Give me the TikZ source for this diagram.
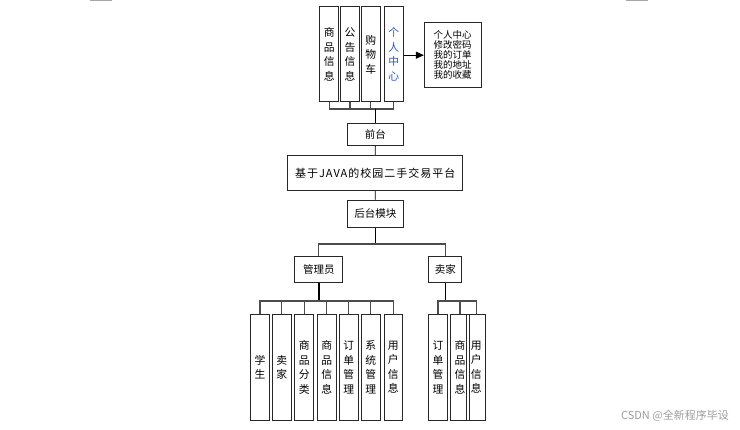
\documentclass[tikz,border=0pt]{standalone}
\usepackage{fontspec}
\setmainfont{Noto Sans CJK SC}
\usetikzlibrary{arrows.meta}
\definecolor{lineC}{RGB}{40,40,40}
\definecolor{blueT}{RGB}{40,90,200}
\tikzset{
  box/.style={draw=lineC, line width=1pt, fill=white, inner sep=0pt, align=center},
  vbox/.style={box, minimum width=18.6pt, minimum height=#1, font=\fontsize{10.8}{14.5}\selectfont},
  hbox/.style={box, font=\fontsize{10.5}{12}\selectfont},
  conn/.style={draw=black, line width=0.9pt},
  bus/.style={draw=black!70, line width=1.1pt},
  stem/.style={draw=black, line width=1.6pt},
}
\begin{document}
\begin{tikzpicture}[x=1pt,y=-1pt]
\useasboundingbox (0,0) rectangle (740,430);
\fill[white] (0,0) rectangle (740,430);
\fill[black!35] (90,0) rectangle (112,1.2);
\fill[black!35] (626,0) rectangle (648,1.2);
% top row
\node[vbox=95pt] (t1) at (329.2,54.5) {商\\品\\信\\息};
\node[vbox=95pt] (t2) at (350,54.5) {公\\告\\信\\息};
\node[vbox=95pt] (t3) at (370.8,54.5) {购\\物\\车};
\node[vbox=95pt, text=blueT] (t4) at (393.8,54.5) {个\\人\\中\\心};
\node[box, minimum width=56.7pt, minimum height=65pt, align=left, font=\fontsize{9.5}{10}\selectfont] (pc) at (452.7,55.2) {个人中心\\修改密码\\我的订单\\我的地址\\我的收藏\hspace{4pt}};
\draw[conn, -{Triangle[length=8pt,width=7pt]}] (t4.east |- pc.west) -- (pc.west);
% bracket
\coordinate (tb) at (375.5,109);
\draw[bus] (t1.south) -- (t1.south |- tb) -- (t4.south |- tb) -- (t4.south);
\draw[bus] (t2.south) -- (t2.south |- tb);
\draw[bus] (t3.south) -- (t3.south |- tb);
% chain
\node[hbox, minimum width=56pt, minimum height=22.4pt] (qt) at (375.3,134.5) {前台};
\node[hbox, minimum width=175pt, minimum height=35.4pt, font=\fontsize{11}{12}\selectfont\addfontfeature{LetterSpace=9}] (main) at (375.2,173) {基于JAVA的校园二手交易平台};
\node[hbox, minimum width=56pt, minimum height=27.3pt] (ht) at (375.3,213.7) {后台模块};
\draw[conn] (qt.north |- tb) -- (qt.north);
\draw[conn] (qt.south) -- (main.north);
\draw[conn] (main.south) -- (ht.north);
% second level
\coordinate (b1) at (375.3,244);
\node[hbox, minimum width=47.7pt, minimum height=26.3pt] (adm) at (318.8,269.2) {管理员};
\node[hbox, minimum width=32.7pt, minimum height=26.3pt] (sel) at (445.3,269.2) {卖家};
\draw[conn] (ht.south) -- (b1);
\draw[bus] (adm.north) |- (b1) -| (sel.north);
% bottom admin
\coordinate (b2) at (0,301);
\node[vbox=106pt] (a1) at (260,367.3) {学\\生};
\node[vbox=106pt] (a2) at (281.8,367.3) {卖\\家};
\node[vbox=106pt] (a3) at (304.2,367.3) {商\\品\\分\\类};
\node[vbox=106pt] (a4) at (326.7,367.3) {商\\品\\信\\息};
\node[vbox=106pt] (a5) at (348.7,367.3) {订\\单\\管\\理};
\node[vbox=106pt] (a6) at (370.8,367.3) {系\\统\\管\\理};
\node[vbox=106pt] (a7) at (393.3,367.3) {用\\户\\信\\息};
\draw[stem] (adm.south) -- (adm.south |- b2);
\draw[bus] (a1.north) |- (a7.north |- b2) -- (a7.north);
\foreach \n in {a2,a3,a4,a5,a6} \draw[bus] (\n.north) -- (\n.north |- b2);
% bottom seller
\node[vbox=106pt] (s1) at (438,367.3) {订\\单\\管\\理};
\node[vbox=106pt, fill=none] (s2) at (460,367.3) {商\\品\\信\\息};
\node[vbox=106pt, fill=none, minimum width=19.3pt] (s3) at (476.3,367.3) {用\\户\\信\\息};
\draw[stem] (sel.south) -- (sel.south |- b2);
\draw[bus] (s1.north) |- (s3.north |- b2) -- (s3.north);
\draw[bus] (s2.north) -- (s2.north |- b2);
% watermark
\node[text=black!38, font=\fontsize{11}{12}\selectfont, anchor=east, inner sep=0pt] (wm) at (729,415.5) {CSDN @全新程序毕设};
\end{tikzpicture}
\end{document}
